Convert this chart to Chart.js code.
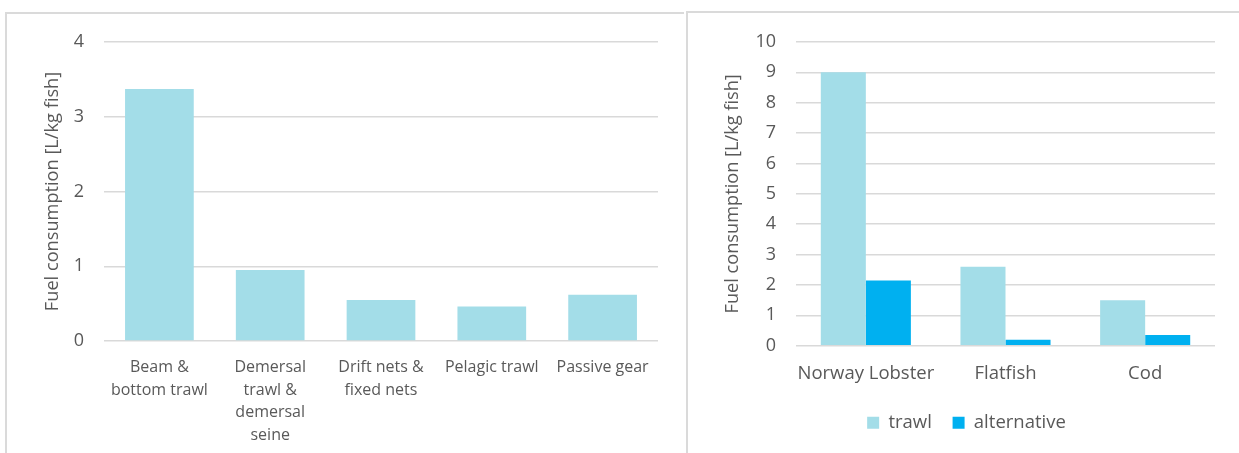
<!DOCTYPE html>
<html>
<head>
<meta charset="utf-8">
<script src="https://cdn.jsdelivr.net/npm/chart.js@4"></script>
<style>
  body { margin: 0; background: #fff; width: 1239px; height: 453px; overflow: hidden; position: relative; }
  .frame { position: absolute; border-top: 2px solid #dadada; border-left: 2px solid #dadada; box-sizing: border-box; }
  canvas { position: absolute; top: 0; }
</style>
</head>
<body>
<div class="frame" style="left:5px; top:12px; width:679px; height:460px;"></div>
<div class="frame" style="left:686px; top:11px; width:560px; height:460px;"></div>
<canvas id="gearChart" width="684" height="453" style="left:0"></canvas>
<canvas id="speciesChart" width="551" height="453" style="left:688px"></canvas>
<script>
const gearLabels = [
  ['Beam &', 'bottom trawl'],
  ['Demersal', 'trawl &', 'demersal', 'seine'],
  ['Drift nets &', 'fixed nets'],
  'Pelagic trawl',
  'Passive gear'
];
const gearFuel = [3.37, 0.95, 0.55, 0.46, 0.62];
const gearTicks = [0, 1, 2, 3, 4];

const speciesLabels = ['Norway Lobster', 'Flatfish', 'Cod'];
const trawlFuel = [9.0, 2.6, 1.5];
const alternativeFuel = [2.15, 0.2, 0.35];
const speciesTicks = [0, 1, 2, 3, 4, 5, 6, 7, 8, 9, 10];

const FONT = "'Open Sans', sans-serif";
const TEXT = '#595959';
const GRID = '#d9d9d9';
const LIGHT = '#a3dde8';
const BLUE = '#00b0f0';

const yTitle = 'Fuel consumption [L/kg fish]';

new Chart(document.getElementById('gearChart'), {
  type: 'bar',
  data: {
    labels: gearLabels,
    datasets: [{
      data: gearFuel,
      backgroundColor: LIGHT,
      categoryPercentage: 1,
      barPercentage: 0.62
    }]
  },
  options: {
    responsive: false,
    animation: false,
    layout: { padding: { left: 40, top: 42, right: 26, bottom: 0 } },
    plugins: { legend: { display: false }, tooltip: { enabled: false } },
    scales: {
      x: {
        grid: { display: false, drawTicks: false },
        border: { display: false },
        ticks: { color: TEXT, font: { family: FONT, size: 16, lineHeight: 1.42 }, padding: 15, maxRotation: 0, autoSkip: false },
        afterFit: s => { s.height = 112; }
      },
      y: {
        min: gearTicks[0],
        max: gearTicks[gearTicks.length - 1],
        afterBuildTicks: s => { s.ticks = gearTicks.map(v => ({ value: v })); },
        grid: { color: GRID, lineWidth: 1.5, drawTicks: false },
        border: { display: false },
        ticks: { color: TEXT, font: { family: FONT, size: 18 }, padding: 20 },
        title: { display: true, text: yTitle, color: TEXT, font: { family: FONT, size: 18.2, lineHeight: 1.2 }, padding: { top: 2, bottom: 0 } },
        afterFit: s => { s.width = 64; }
      }
    }
  }
});

new Chart(document.getElementById('speciesChart'), {
  type: 'bar',
  data: {
    labels: speciesLabels,
    datasets: [
      { label: 'trawl', data: trawlFuel, backgroundColor: LIGHT, categoryPercentage: 0.645, barPercentage: 1 },
      { label: 'alternative', data: alternativeFuel, backgroundColor: BLUE, categoryPercentage: 0.645, barPercentage: 1 }
    ]
  },
  options: {
    responsive: false,
    animation: false,
    layout: { padding: { left: 30, top: 42, right: 24, bottom: 11 } },
    plugins: {
      tooltip: { enabled: false },
      legend: {
        position: 'bottom',
        labels: { color: TEXT, font: { family: FONT, size: 18.5 }, boxWidth: 12, boxHeight: 12, padding: 20.75 }
      }
    },
    scales: {
      x: {
        grid: { display: false, drawTicks: false },
        border: { display: false },
        ticks: { color: TEXT, font: { family: FONT, size: 18.5, lineHeight: 1.2 }, padding: 17.2, maxRotation: 0, autoSkip: false },
        afterFit: s => { s.height = 47.05; }
      },
      y: {
        min: speciesTicks[0],
        max: speciesTicks[speciesTicks.length - 1],
        afterBuildTicks: s => { s.ticks = speciesTicks.map(v => ({ value: v })); },
        grid: { color: GRID, lineWidth: 1.5, drawTicks: false },
        border: { display: false },
        ticks: { color: TEXT, font: { family: FONT, size: 18 }, padding: 20, autoSkip: false },
        title: { display: true, text: yTitle, color: TEXT, font: { family: FONT, size: 18.2, lineHeight: 1.2 }, padding: { top: 4, bottom: 0 } },
        afterFit: s => { s.width = 78; }
      }
    }
  }
});
</script>
</body>
</html>
